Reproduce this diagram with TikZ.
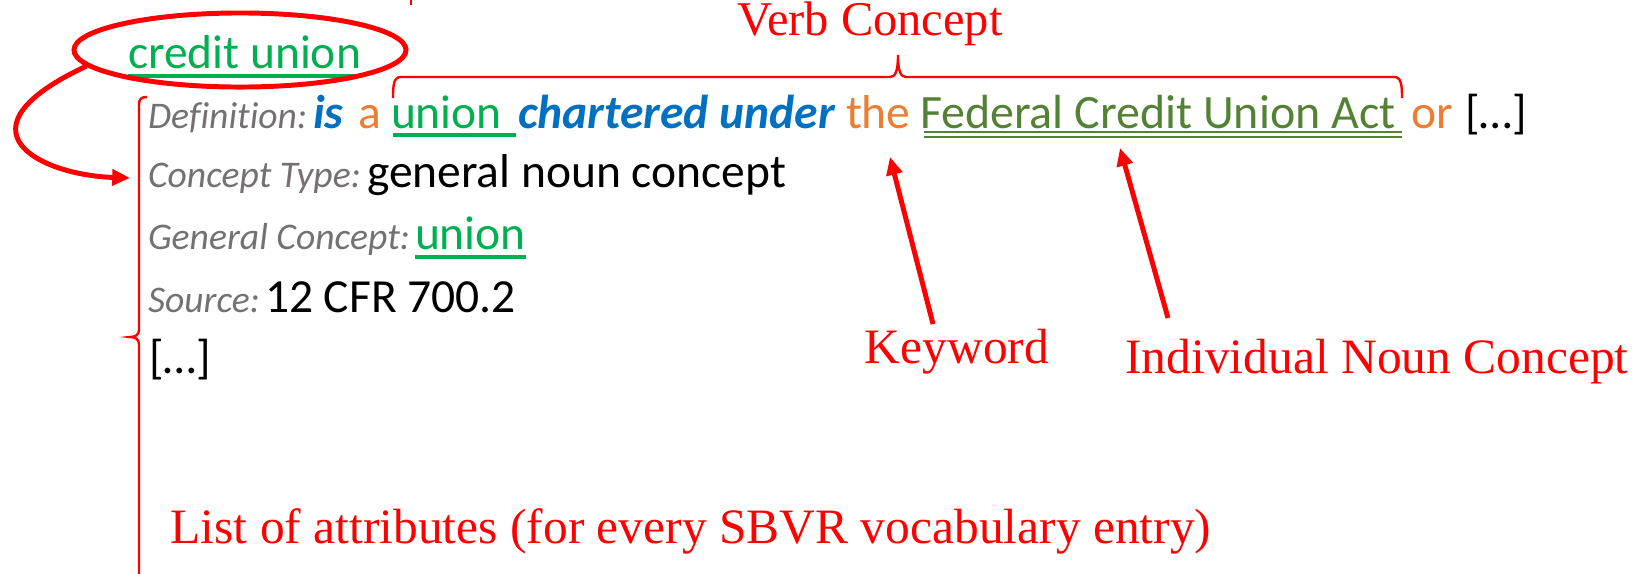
\documentclass[tikz,border=0pt]{standalone}
\usepackage{fontspec}
\setmainfont{Carlito}[Ligatures=NoCommon]
\newfontfamily\notefont{Liberation Serif}
\usetikzlibrary{shapes.geometric,arrows.meta,calc}

\definecolor{cgreen}{HTML}{00B050}
\definecolor{cblue}{HTML}{0070C0}
\definecolor{corange}{HTML}{ED7D31}
\definecolor{cdark}{HTML}{548235}
\definecolor{cgrey}{HTML}{767171}

\newcommand\bodysize{\fontsize{24}{28}\selectfont}

\begin{document}
\begin{tikzpicture}[x=0.505pt,y=-0.505pt,
  seg/.style={anchor=base west, inner sep=0pt, outer sep=0pt, font=\bodysize},
  lab/.style={seg, font=\fontsize{19}{23}\selectfont\itshape, text=cgrey},
  bi/.style={seg, font=\bodysize\bfseries\itshape, text=cblue},
  note/.style={anchor=base, inner sep=0pt, text=red, font=\notefont\fontsize{25}{30}\selectfont},
  pointer/.style={red, line width=2.5pt, -{Triangle[length=9pt,width=8pt]}},
  bracestroke/.style={draw=red, line width=1.2pt},
  uline/.style={line width=1.9pt}]
\useasboundingbox (0,0) rectangle (1640,573);

% vocabulary entry term
\node[seg, text=cgreen] (cu) at (128,68) {credit union};
\draw[cgreen, uline] ($(cu.base west)+(0,8)$) -- ($(cu.base east)+(0,8)$);
\node[draw=red, line width=2.5pt, ellipse, inner sep=0pt,
      minimum width=167.7pt, minimum height=37.4pt] (ring) at (240,50) {};

% definition line
\node[lab] (dlab) at (148,128) {Definition:};
\node[bi] (dis) at (313,128) {is};
\node[seg, text=corange] (da) at (358,128) {a};
\node[seg, text=cgreen] (dun) at (391,128) {union};
\node[bi] (dch) at (518,128) {chartered under};
\node[seg, text=corange] (dth) at (846,128) {the};
\node[seg, text=cdark, font=\fontsize{24.2}{28}\selectfont] (dfc) at (920,128) {Federal Credit Union Act};
\node[seg, text=corange] (dor) at (1411,128) {or};
\node[seg] (dell) at (1465,128) {[…]};
\draw[cgreen, uline] ($(dun.base west)+(2,7)$) -- ($(dch.base west)+(-2,7)$);
\draw[cdark, line width=0.7pt] ($(dfc.base west)+(4,4)$) -- ($(dor.base west)+(-9,4)$);
\draw[cdark, line width=0.7pt] ($(dfc.base west)+(4,9)$) -- ($(dor.base west)+(-9,9)$);

% remaining attributes
\node[lab] (tlab) at (148,187) {Concept Type:};
\node[seg] (tval) at (367,187) {general noun concept};
\node[lab] (glab) at (148,249) {General Concept:};
\node[seg, text=cgreen] (gval) at (415,249) {union};
\draw[cgreen, uline] ($(gval.base west)+(0,8)$) -- ($(gval.base east)+(0,8)$);
\node[lab] (slab) at (148,312) {Source:};
\node[seg] (sval) at (265,312) {12 CFR 700.2};
\node[seg] (more) at (149,373) {[…]};

% annotations
\node[note, font=\notefont\fontsize{24.5}{30}\selectfont] (verb) at (870,35) {Verb Concept};
\node[note] (kw) at (957,363) {Keyword};
\node[note] (inc) at (1377,373) {Individual Noun Concept};
\node[note] (list) at (691,543) {List of attributes (for every SBVR vocabulary entry)};

% brace over the verb concept
\draw[bracestroke] (393,98) .. controls (393,84) and (394,77) .. (401,77) -- (890,77)
  .. controls (895,77) and (898,72) .. (898,55)
  .. controls (898,72) and (901,77) .. (906,77) -- (1394,77)
  .. controls (1401,77) and (1402,84) .. (1402,98);

% brace along the attribute list
\draw[bracestroke] (147,97) .. controls (141,97) and (139,99) .. (139,105) -- (139,330)
  .. controls (139,335) and (135,337) .. (130,337)
  .. controls (135,337) and (139,339) .. (139,344) -- (139,580);

% small mark at the top edge
\draw[red, line width=1.2pt] (411,0) -- (411,5);

% pointers
\coordinate (attrtip) at (130,178);
\draw[pointer] (ring.186) .. controls (-50,130) and (40,175) .. (attrtip);
\coordinate (kwtail) at (933,324);
\coordinate (kwtip) at (890,157);
\draw[pointer] (kwtail) -- (kwtip);
\coordinate (inctail) at (1168,318);
\coordinate (inctip) at (1120,148);
\draw[pointer] (inctail) -- (inctip);
\end{tikzpicture}
\end{document}
